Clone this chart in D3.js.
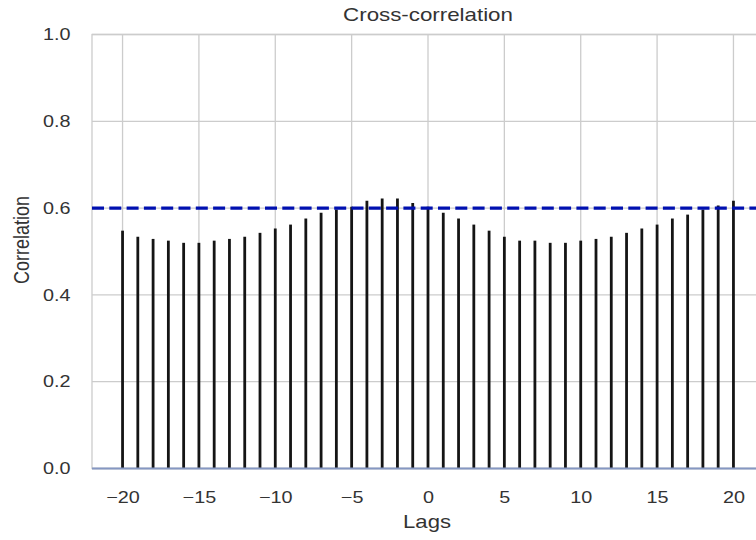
<!DOCTYPE html>
<html>
<head>
<meta charset="utf-8">
<script src="https://cdn.jsdelivr.net/npm/d3@7"></script>
<style>
  body { margin: 0; background: #fff; }
  text { font-family: Arial, "Liberation Sans", sans-serif; fill: #333; }
</style>
</head>
<body>
<div id="cont"></div>
<script>
// Data
var lags = d3.range(-20, 21);
var corr = [0.548, 0.534, 0.529, 0.525, 0.520, 0.520, 0.525, 0.529, 0.534, 0.543,
            0.553, 0.562, 0.576, 0.589, 0.597, 0.603, 0.617, 0.622, 0.622, 0.612,
            0.603, 0.589, 0.576, 0.562, 0.548, 0.534, 0.525, 0.525, 0.520, 0.520,
            0.525, 0.529, 0.534, 0.543, 0.553, 0.562, 0.576, 0.585, 0.597, 0.606,
            0.617];
var threshold = 0.6;
var xTicks = [-20, -15, -10, -5, 0, 5, 10, 15, 20];
var yTicks = [0, 0.2, 0.4, 0.6, 0.8, 1.0];

// Layout ("top" is taken by window.top, so m-prefixed names)
var W = 756, H = 540;
var mLeft = 92, mRight = 764, mTop = 34.5, mBottom = 468.5;
var sx = 1.2;   // the source picture is stretched sideways

var svg = d3.select("#cont").append("svg")
    .attr("width", W)
    .attr("height", H);

var x = d3.scaleLinear().domain([-22, 22]).range([mLeft, mRight]);
var y = d3.scaleLinear().domain([0, 1]).range([mBottom, mTop]);

var plot = svg.append("g");

// grid
plot.selectAll(".vgrid").data(xTicks).enter().append("line")
    .attr("x1", d => x(d)).attr("x2", d => x(d))
    .attr("y1", mTop).attr("y2", mBottom)
    .attr("stroke", "#cccccc").attr("stroke-width", 1.3);
plot.selectAll(".hgrid").data(yTicks).enter().append("line")
    .attr("x1", mLeft).attr("x2", mRight)
    .attr("y1", d => y(d)).attr("y2", d => y(d))
    .attr("stroke", "#cccccc").attr("stroke-width", 1.3);

// frame
plot.append("rect")
    .attr("x", mLeft).attr("y", mTop)
    .attr("width", mRight - mLeft).attr("height", mBottom - mTop)
    .attr("fill", "none").attr("stroke", "#cccccc").attr("stroke-width", 1.3);

// correlation stems
plot.selectAll(".stem").data(lags).enter().append("line")
    .attr("class", "stem")
    .attr("x1", d => x(d)).attr("x2", d => x(d))
    .attr("y1", y(0)).attr("y2", (d, i) => y(corr[i]))
    .attr("stroke", "#141414").attr("stroke-width", 2.8);

// zero line
plot.append("line")
    .attr("x1", mLeft).attr("x2", mRight)
    .attr("y1", y(0)).attr("y2", y(0))
    .attr("stroke", "#8597c2").attr("stroke-width", 2);

// threshold
plot.append("line")
    .attr("x1", mLeft).attr("x2", mRight)
    .attr("y1", y(threshold)).attr("y2", y(threshold))
    .attr("stroke", "#0010b0").attr("stroke-width", 3.3)
    .attr("stroke-dasharray", "12,5.3");

// axes
var xAxis = svg.append("g")
    .attr("transform", "translate(0," + mBottom + ")")
    .call(d3.axisBottom(x).tickValues(xTicks).tickSize(0).tickFormat(d3.format("d")));
xAxis.select(".domain").remove();
xAxis.selectAll("text")
    .attr("x", 0)
    .attr("y", 35).attr("dy", null)
    .attr("transform", "scale(" + sx + ",1)")
    .style("font-size", "16.5px");

var yAxis = svg.append("g")
    .attr("transform", "translate(" + mLeft + ",0)")
    .call(d3.axisLeft(y).tickValues(yTicks).tickSize(0).tickFormat(d3.format(".1f")));
yAxis.select(".domain").remove();
yAxis.selectAll("text")
    .attr("x", -21.5 / sx)
    .attr("transform", "scale(" + sx + ",1)")
    .style("font-size", "16.5px");

svg.selectAll(".tick text").style("fill", "#333");

// title and labels
svg.append("text")
    .attr("transform", "translate(428,21) scale(" + sx + ",1)")
    .attr("text-anchor", "middle")
    .style("font-size", "18.6px")
    .text("Cross-correlation");

svg.append("text")
    .attr("transform", "translate(427,528) scale(" + sx + ",1)")
    .attr("text-anchor", "middle")
    .style("font-size", "18.4px")
    .text("Lags");

svg.append("text")
    .attr("transform", "translate(29,240) scale(" + sx + ",1) rotate(-90)")
    .attr("text-anchor", "middle")
    .style("font-size", "18px")
    .text("Correlation");
</script>
</body>
</html>
